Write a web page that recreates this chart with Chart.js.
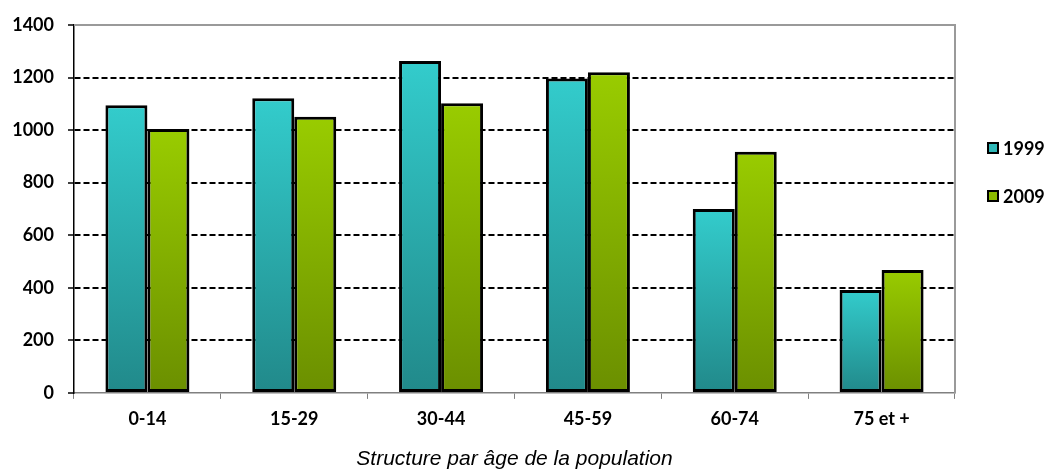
<!DOCTYPE html>
<html>
<head>
<meta charset="utf-8">
<script src="https://cdn.jsdelivr.net/npm/chart.js@4.4.1/dist/chart.umd.min.js"></script>
<style>
  html, body { margin: 0; padding: 0; background: #ffffff; }
  #wrap { width: 1045px; height: 473px; position: relative; }
</style>
</head>
<body>
<div id="wrap"><canvas id="c" width="1045" height="473"></canvas></div>
<script>
const categories = ['0-14', '15-29', '30-44', '45-59', '60-74', '75 et +'];
const seriesLabels = ['1999', '2009'];
const values1999 = [1095, 1121, 1263, 1196, 700, 392];
const values2009 = [1004, 1051, 1102, 1220, 918, 468];
const yTicks = [0, 200, 400, 600, 800, 1000, 1200, 1400];
const titleText = 'Structure par âge de la population';

const palettes = [
  { top: '#33CCCC', bottom: '#21898A', legend: '#2FB8B8' },
  { top: '#99CC00', bottom: '#6B8F00', legend: '#8CBB00' }
];

function barGradient(p) {
  return function (ctx) {
    const chart = ctx.chart;
    const y = chart.scales && chart.scales.y;
    if (!y || ctx.raw === undefined || y.top === undefined) return p.top;
    const yTop = y.getPixelForValue(ctx.raw);
    const yBot = y.getPixelForValue(0);
    if (!isFinite(yTop) || !isFinite(yBot) || yTop === yBot) return p.top;
    const g = chart.ctx.createLinearGradient(0, yTop, 0, yBot);
    g.addColorStop(0, p.top);
    g.addColorStop(1, p.bottom);
    return g;
  };
}

const frame = {
  id: 'frame',
  afterDatasetsDraw(chart) {
    const { ctx, chartArea: a } = chart;
    ctx.save();
    ctx.strokeStyle = '#9a9a9a';
    ctx.lineWidth = 2;
    ctx.beginPath();
    ctx.moveTo(a.left, a.top);
    ctx.lineTo(a.right, a.top);
    ctx.lineTo(a.right, a.bottom);
    ctx.stroke();
    ctx.restore();
  },
  afterDraw(chart) {
    const { ctx } = chart;
    const ys = [148, 196];
    ctx.save();
    ctx.font = 'bold 18px Lato';
    ctx.textBaseline = 'middle';
    ctx.textAlign = 'left';
    chart.data.datasets.forEach((ds, i) => {
      const y = ys[i];
      ctx.fillStyle = palettes[i].legend;
      ctx.fillRect(988, y - 5, 10, 10);
      ctx.strokeStyle = '#000';
      ctx.lineWidth = 2;
      ctx.strokeRect(988, y - 5, 10, 10);
      ctx.fillStyle = '#000';
      ctx.fillText(ds.label, 1003, y + 1);
    });
    ctx.restore();
  }
};

new Chart(document.getElementById('c'), {
  type: 'bar',
  data: {
    labels: categories,
    datasets: [
      {
        label: seriesLabels[0],
        data: values1999,
        backgroundColor: barGradient(palettes[0]),
        borderColor: '#000',
        borderWidth: 3,
        borderSkipped: false
      },
      {
        label: seriesLabels[1],
        data: values2009,
        backgroundColor: barGradient(palettes[1]),
        borderColor: '#000',
        borderWidth: 3,
        borderSkipped: false
      }
    ]
  },
  options: {
    responsive: false,
    animation: false,
    devicePixelRatio: 1,
    layout: { padding: { left: 0, right: 90, top: 25, bottom: 2 } },
    datasets: { bar: { categoryPercentage: 0.572, barPercentage: 1.0 } },
    plugins: {
      legend: { display: false },
      tooltip: { enabled: false },
      title: {
        display: true,
        position: 'bottom',
        fullSize: false,
        text: titleText,
        color: '#000',
        font: { family: 'Liberation Sans', size: 21, style: 'italic', weight: 'normal', lineHeight: 1.1 },
        padding: { top: 0, bottom: 0 }
      }
    },
    scales: {
      x: {
        grid: {
          offset: true,
          drawOnChartArea: false,
          drawTicks: true,
          tickLength: 6,
          tickColor: '#808080',
          tickWidth: 1
        },
        border: { display: true, color: '#808080', width: 1.5 },
        ticks: {
          color: '#000',
          padding: 9,
          font: { family: 'Lato', size: 18, weight: 'bold' }
        },
        afterFit(scale) { scale.height = 55; }
      },
      y: {
        min: 0,
        max: 1400,
        afterBuildTicks(scale) { scale.ticks = yTicks.map(v => ({ value: v })); },
        grid: {
          color: (c) => (c.tick && (c.tick.value === 0 || c.tick.value === 1400)) ? 'rgba(0,0,0,0)' : '#000',
          lineWidth: 2,
          drawTicks: true,
          tickLength: 6,
          tickColor: '#000',
          tickWidth: 1.5
        },
        border: { display: true, color: '#000', width: 1.5, dash: [6, 3] },
        ticks: {
          color: '#000',
          padding: 14,
          font: { family: 'Lato', size: 18, weight: 'bold' },
          callback: (v) => String(v)
        },
        afterFit(scale) { scale.width = 74; }
      }
    }
  },
  plugins: [frame]
});
</script>
</body>
</html>
